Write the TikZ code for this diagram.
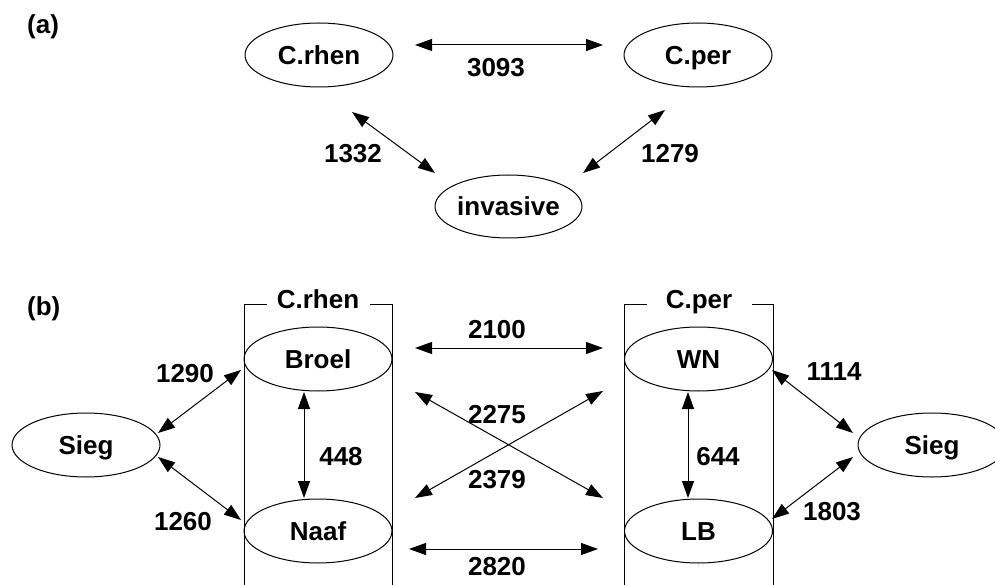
\documentclass[tikz,border=0pt]{standalone}
\usepackage{fontspec}
\setmainfont{Liberation Sans}
\usetikzlibrary{arrows.meta,shapes.geometric}
\begin{document}
\begin{tikzpicture}[x=1pt,y=-1pt,
  lbl/.style={font=\fontsize{26}{30}\selectfont\bfseries, inner sep=0pt, anchor=base},
  ell/.style={ellipse, draw, line width=1pt, minimum width=148pt, minimum height=64pt, inner sep=0pt,
    font=\fontsize{26}{30}\selectfont\bfseries, text height=19pt, text depth=0pt},
  conn/.style={line width=1pt, {Triangle[length=17pt,width=12pt]}-{Triangle[length=17pt,width=12pt]}},
  frameline/.style={line width=1pt}]
\useasboundingbox (0,0) rectangle (995,585);

% ---------- (a) ----------
\node[lbl, anchor=base west] (la) at (27,34) {(a)};
\node[ell] (crhenA) at (319,55) {C.rhen};
\node[ell] (cperA) at (698,55) {C.per};
\node[ell, minimum width=147pt, minimum height=63pt] (inv) at (508.5,206.5) {invasive};

\draw[conn] ([shift={(96,-10)}]crhenA.center) -- ([shift={(-95,-10)}]cperA.center);
\draw[conn] ([shift={(33,57)}]crhenA.center) -- ([shift={(-73.5,-33.5)}]inv.center);
\draw[conn] ([shift={(-33,55)}]cperA.center) -- ([shift={(74.5,-33.5)}]inv.center);

\node[lbl] (n3093) at (496,77) {3093};
\node[lbl] (n1332) at (353,163) {1332};
\node[lbl] (n1279) at (670,163) {1279};

% ---------- (b) ----------
\node[lbl, anchor=base west] (lb) at (27,315) {(b)};

% group frames
\draw[frameline] (244,585) -- (244,304) -- (267,304);
\draw[frameline] (370,304) -- (392,304) -- (392,585);
\draw[frameline] (624,585) -- (624,304) -- (647,304);
\draw[frameline] (752,304) -- (773,304) -- (773,585);
\node[lbl] (grpR) at (318,308) {C.rhen};
\node[lbl] (grpP) at (699,308) {C.per};

\node[ell] (broel) at (318,359) {Broel};
\node[ell] (naaf) at (318,531) {Naaf};
\node[ell] (wn) at (698.5,359) {WN};
\node[ell] (lbn) at (698.5,531) {LB};
\node[ell] (siegL) at (86,445) {Sieg};
\node[ell] (siegR) at (932,445) {Sieg};

\draw[conn] ([shift={(97,-11)}]broel.center) -- ([shift={(-95.5,-11)}]wn.center);
\draw[conn] ([shift={(97,33)}]broel.center) -- ([shift={(-95.5,-33)}]lbn.center);
\draw[conn] ([shift={(97,-33)}]naaf.center) -- ([shift={(-95.5,32)}]wn.center);
\draw[conn] ([shift={(91,18)}]naaf.center) -- ([shift={(-100.5,18)}]lbn.center);
\draw[conn] ([shift={(-14,33)}]broel.center) -- ([shift={(-14,-33)}]naaf.center);
\draw[conn] ([shift={(-10.5,33)}]wn.center) -- ([shift={(-10.5,-33)}]lbn.center);
\draw[conn] ([shift={(72,-12)}]siegL.center) -- ([shift={(-77,11)}]broel.center);
\draw[conn] ([shift={(72,12)}]siegL.center) -- ([shift={(-77,-11)}]naaf.center);
\draw[conn] ([shift={(73.5,11)}]wn.center) -- ([shift={(-79,-12)}]siegR.center);
\draw[conn] ([shift={(-79,12)}]siegR.center) -- ([shift={(73.5,-12)}]lbn.center);

\node[lbl] (n2100) at (497,338) {2100};
\node[lbl] (n2275) at (497,423) {2275};
\node[lbl] (n2379) at (497,488) {2379};
\node[lbl] (n2820) at (497,575) {2820};
\node[lbl] (n448) at (341,465) {448};
\node[lbl] (n644) at (718,465) {644};
\node[lbl] (n1290) at (185,382) {1290};
\node[lbl] (n1260) at (183,530) {1260};
\node[lbl] (n1114) at (834,380) {1114};
\node[lbl] (n1803) at (832,520) {1803};
\end{tikzpicture}
\end{document}
